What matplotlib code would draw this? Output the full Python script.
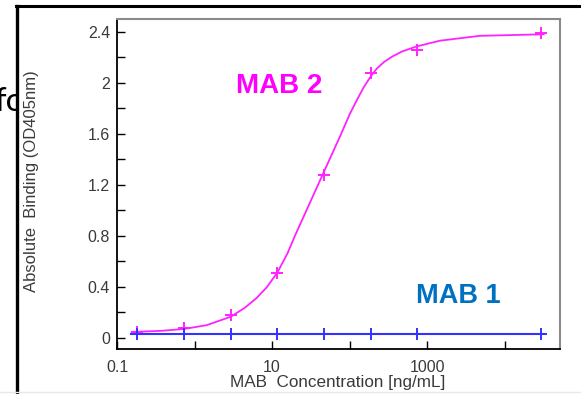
import matplotlib
matplotlib.use("Agg")
import matplotlib.pyplot as plt
from matplotlib.transforms import Bbox
from matplotlib.ticker import FixedLocator, FixedFormatter, MultipleLocator

# ---- data ----
conc = [0.183, 0.732, 2.93, 11.7, 46.9, 187.5, 750, 30000]
mab2_od = [0.047, 0.074, 0.176, 0.51, 1.28, 2.08, 2.26, 2.39]
mab1_od = [0.03, 0.03, 0.03, 0.03, 0.03, 0.03, 0.03, 0.03]

# fitted curves as drawn in the picture
mab2_fit_x = [0.155, 0.359, 0.733, 1.436, 2.96, 4.47, 6.31, 8.55, 11.7, 15.8,
              19.8, 45.1, 78.2, 100, 124, 151, 188, 224, 282, 355,
              476, 736, 1472, 4830, 32000]
mab2_fit_y = [0.045, 0.053, 0.068, 0.098, 0.165, 0.235, 0.31, 0.395, 0.51, 0.66,
              0.80, 1.28, 1.60, 1.75, 1.862, 1.96, 2.05, 2.11, 2.165, 2.205,
              2.245, 2.285, 2.33, 2.368, 2.38]
mab1_fit_x = [0.15, 32500]
mab1_fit_y = [0.03, 0.03]

x_ticks = [0.1, 1, 10, 100, 1000, 10000]
x_tick_labels = ["0.1", "", "10", "", "1000", ""]
y_ticks = [0, 0.4, 0.8, 1.2, 1.6, 2, 2.4]
y_tick_labels = ["0", "0.4", "0.8", "1.2", "1.6", "2", "2.4"]

W, H = 581, 394
fig = plt.figure(figsize=(W / 100, H / 100), dpi=100)
fig.patch.set_facecolor("white")

ax = fig.add_axes([117 / W, 1 - 349 / H, (560 - 117) / W, (349 - 19) / H])

magenta = "#ff22ff"
blue = "#3333ff"

ax.plot(mab2_fit_x, mab2_fit_y, color=magenta, lw=1.3, zorder=3)
ax.plot(conc, mab2_od, linestyle="none", marker="+", markersize=8,
        markeredgewidth=1.4, color=magenta, zorder=4)
ax.plot(mab1_fit_x, mab1_fit_y, color=blue, lw=1.5, zorder=3)
ax.plot(conc, mab1_od, linestyle="none", marker="+", markersize=8,
        markeredgewidth=1.4, color=blue, zorder=4)

ax.set_xscale("log")
ax.set_xlim(0.1, 52000)
ax.set_ylim(-0.089, 2.5)

ax.xaxis.set_major_locator(FixedLocator(x_ticks))
ax.xaxis.set_major_formatter(FixedFormatter(x_tick_labels))
ax.xaxis.set_minor_locator(FixedLocator([]))
ax.yaxis.set_major_locator(FixedLocator(y_ticks))
ax.yaxis.set_major_formatter(FixedFormatter(y_tick_labels))
ax.yaxis.set_minor_locator(MultipleLocator(0.2))

tick_color = "#3a3a3a"
ax.tick_params(axis="both", which="both", direction="in", length=6, width=1.0,
               color="black", labelcolor=tick_color, labelsize=11.5,
               labelfontfamily="Liberation Sans")
ax.tick_params(axis="x", pad=8)
ax.tick_params(axis="y", pad=5)

for s in ["left", "bottom"]:
    ax.spines[s].set_color("black")
    ax.spines[s].set_linewidth(1.3)
for s in ["top", "right"]:
    ax.spines[s].set_color("#8a8a8a")
    ax.spines[s].set_linewidth(1.5)

fig.text(338 / W, 1 - 383 / H, "MAB  Concentration [ng/mL]", ha="center",
         va="center", fontsize=12.3, color=tick_color, family="Liberation Sans")
fig.text(32 / W, 1 - 181 / H, "Absolute  Binding (OD405nm)", ha="center",
         va="center", rotation=90, fontsize=12, color=tick_color,
         family="Liberation Sans")

fig.text(279 / W, 1 - 86 / H, "MAB 2", ha="center", va="center", fontsize=20,
         fontweight="bold", color="#ff00ff", family="Liberation Sans")
fig.text(458 / W, 1 - 296 / H, "MAB 1", ha="center", va="center", fontsize=19.5,
         fontweight="bold", color="#0070c0", family="Liberation Sans")

# slide frame lines
fig.add_artist(plt.Line2D([16.5 / W, 16.5 / W], [0, 1 - 6 / H], color="black",
                          lw=2.4, transform=fig.transFigure))
fig.add_artist(plt.Line2D([15.5 / W, 1], [1 - 6 / H, 1 - 6 / H], color="black",
                          lw=2.2, transform=fig.transFigure))
fig.add_artist(plt.Line2D([0, 1], [1 - 391.5 / H, 1 - 391.5 / H], color="#e8e8e8",
                          lw=1.0, transform=fig.transFigure))

# partially hidden slide text on the left
t = fig.text(-6 / W, 1 - 111 / H, "fo", ha="left", va="baseline", fontsize=24,
             color="black", family="Lato")
t.set_clip_box(Bbox.from_extents(0, 0, 15.5, H))
t.set_clip_on(True)

fig.savefig("out.png", dpi=100, facecolor="white")
